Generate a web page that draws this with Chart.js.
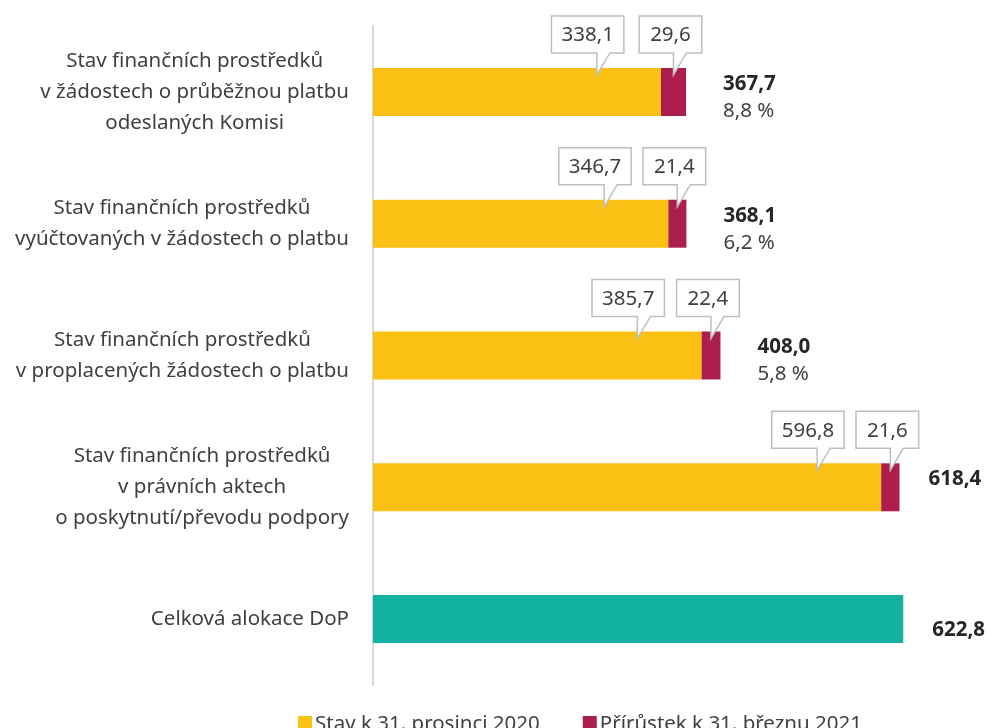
<!DOCTYPE html>
<html>
<head>
<meta charset="utf-8">
<script src="https://cdn.jsdelivr.net/npm/chart.js@4"></script>
<style>
html, body { margin: 0; padding: 0; background: #fff; overflow: hidden; }
</style>
</head>
<body>
<canvas id="chart" width="988" height="728"></canvas>
<script>
// data
const categories = [
  ['Stav finančních prostředků', 'v žádostech o průběžnou platbu', 'odeslaných Komisi'],
  ['Stav finančních prostředků', 'vyúčtovaných v žádostech o platbu'],
  ['Stav finančních prostředků', 'v proplacených žádostech o platbu'],
  ['Stav finančních prostředků', 'v právních aktech', 'o poskytnutí/převodu podpory'],
  ['Celková alokace DoP']
];
const seriesNames = ['Stav k 31. prosinci 2020', 'Přírůstek k 31. březnu 2021', 'Celková alokace DoP'];
const stav2020 = [338.1, 346.7, 385.7, 596.8, null];
const prirustek2021 = [29.6, 21.4, 22.4, 21.6, null];
const alokace = [null, null, null, null, 622.8];
const totals = [367.7, 368.1, 408.0, 618.4, 622.8];
const growthPct = [8.8, 6.2, 5.8, null, null];

const colors = ['#FAC014', '#AD1D4E', '#13B19F'];
const fontFamily = '"Noto Sans", "Open Sans", sans-serif';
const fontSize = 20.5;
const textColor = '#404040';

const fmt = v => v.toFixed(1).replace('.', ',');

const drawCallout = (ctx, left, top, w, h, tipX, tipY, text) => {
  const bottom = top + h;
  ctx.beginPath();
  ctx.moveTo(left, top);
  ctx.lineTo(left + w, top);
  ctx.lineTo(left + w, bottom);
  ctx.lineTo(tipX + 13, bottom);
  ctx.lineTo(tipX, tipY);
  ctx.lineTo(tipX, bottom);
  ctx.lineTo(left, bottom);
  ctx.closePath();
  ctx.fillStyle = '#ffffff';
  ctx.fill();
  ctx.strokeStyle = '#bfbfbf';
  ctx.lineWidth = 1.5;
  ctx.stroke();
  ctx.fillStyle = textColor;
  ctx.textAlign = 'center';
  ctx.textBaseline = 'middle';
  ctx.fillText(text, left + w / 2, top + h / 2 + 1);
}

const labelsPlugin = {
  id: 'labelsPlugin',
  afterDraw(chart) {
    const ctx = chart.ctx;
    const area = chart.chartArea;
    const yScale = chart.scales.y;
    const m0 = chart.getDatasetMeta(0);
    const m1 = chart.getDatasetMeta(1);
    const m2 = chart.getDatasetMeta(2);
    const regular = fontSize + 'px ' + fontFamily;
    const bold = 'bold ' + fontSize + 'px ' + fontFamily;
    ctx.save();

    // category labels, lines centred, block right aligned
    ctx.font = regular;
    ctx.fillStyle = textColor;
    ctx.textAlign = 'center';
    ctx.textBaseline = 'middle';
    categories.forEach((lines, i) => {
      const cy = yScale.getPixelForValue(i);
      const widest = Math.max(...lines.map(l => ctx.measureText(l).width));
      const cx = area.left - 24 - widest / 2;
      lines.forEach((l, k) => ctx.fillText(l, cx, cy + (k - (lines.length - 1) / 2) * 31));
    });

    // callouts
    stav2020.forEach((v, i) => {
      if (v == null) return;
      const el = m0.data[i];
      const barTop = el.y - el.height / 2;
      const txt = fmt(v);
      const w = ctx.measureText(txt).width + 20;
      const tipX = el.x - 64;
      drawCallout(ctx, tipX + 27 - w, barTop - 52, w, 37, tipX, barTop + 7, txt);
    });
    prirustek2021.forEach((v, i) => {
      if (v == null) return;
      const el = m1.data[i];
      const barTop = el.y - el.height / 2;
      const txt = fmt(v);
      const w = ctx.measureText(txt).width + 22;
      const tipX = (el.x + el.base) / 2;
      drawCallout(ctx, tipX - w / 2 - 3, barTop - 52, w, 37, tipX, barTop + 7, txt);
    });

    // totals and growth
    totals.forEach((t, i) => {
      const el = alokace[i] != null ? m2.data[i] : m1.data[i];
      const cy = el.y;
      const x = el.x + (growthPct[i] != null ? 37 : 29);
      ctx.textAlign = 'left';
      ctx.textBaseline = 'middle';
      ctx.fillStyle = '#262626';
      ctx.font = bold;
      ctx.fillText(fmt(t), x, cy + (alokace[i] != null ? 11 : -8));
      if (growthPct[i] != null) {
        ctx.fillStyle = textColor;
        ctx.font = regular;
        ctx.fillText(fmt(growthPct[i]) + ' %', x, cy + 19);
      }
    });

    // legend
    ctx.font = regular;
    ctx.textBaseline = 'alphabetic';
    ctx.textAlign = 'left';
    const items = [0, 1].map(k => ({ text: seriesNames[k], color: colors[k], w: ctx.measureText(seriesNames[k]).width }));
    const total = items.reduce((s, it) => s + 17 + it.w, 0) + 43;
    let lx = 580 - total / 2;
    items.forEach(it => {
      ctx.fillStyle = it.color;
      ctx.fillRect(lx, 716, 14, 14);
      ctx.fillStyle = textColor;
      ctx.fillText(it.text, lx + 17, 730);
      lx += 17 + it.w + 43;
    });
    ctx.restore();
  }
};

new Chart(document.getElementById('chart'), {
  type: 'bar',
  data: {
    labels: categories,
    datasets: [
      { label: seriesNames[0], data: stav2020, backgroundColor: colors[0] },
      { label: seriesNames[1], data: prirustek2021, backgroundColor: colors[1] },
      { label: seriesNames[2], data: alokace, backgroundColor: colors[2] }
    ]
  },
  options: {
    indexAxis: 'y',
    responsive: false,
    animation: false,
    devicePixelRatio: 1,
    datasets: { bar: { barPercentage: 0.364, categoryPercentage: 1 } },
    layout: { padding: { top: 26, right: 19, bottom: 43, left: 0 } },
    scales: {
      x: { stacked: true, min: 0, max: 700, display: false },
      y: {
        stacked: true,
        grid: { display: false },
        border: { display: true, color: '#d9d9d9', width: 2 },
        ticks: { display: false },
        afterFit(s) { s.width = 373; }
      }
    },
    plugins: { legend: { display: false }, tooltip: { enabled: false } }
  },
  plugins: [labelsPlugin]
});
</script>
</body>
</html>
